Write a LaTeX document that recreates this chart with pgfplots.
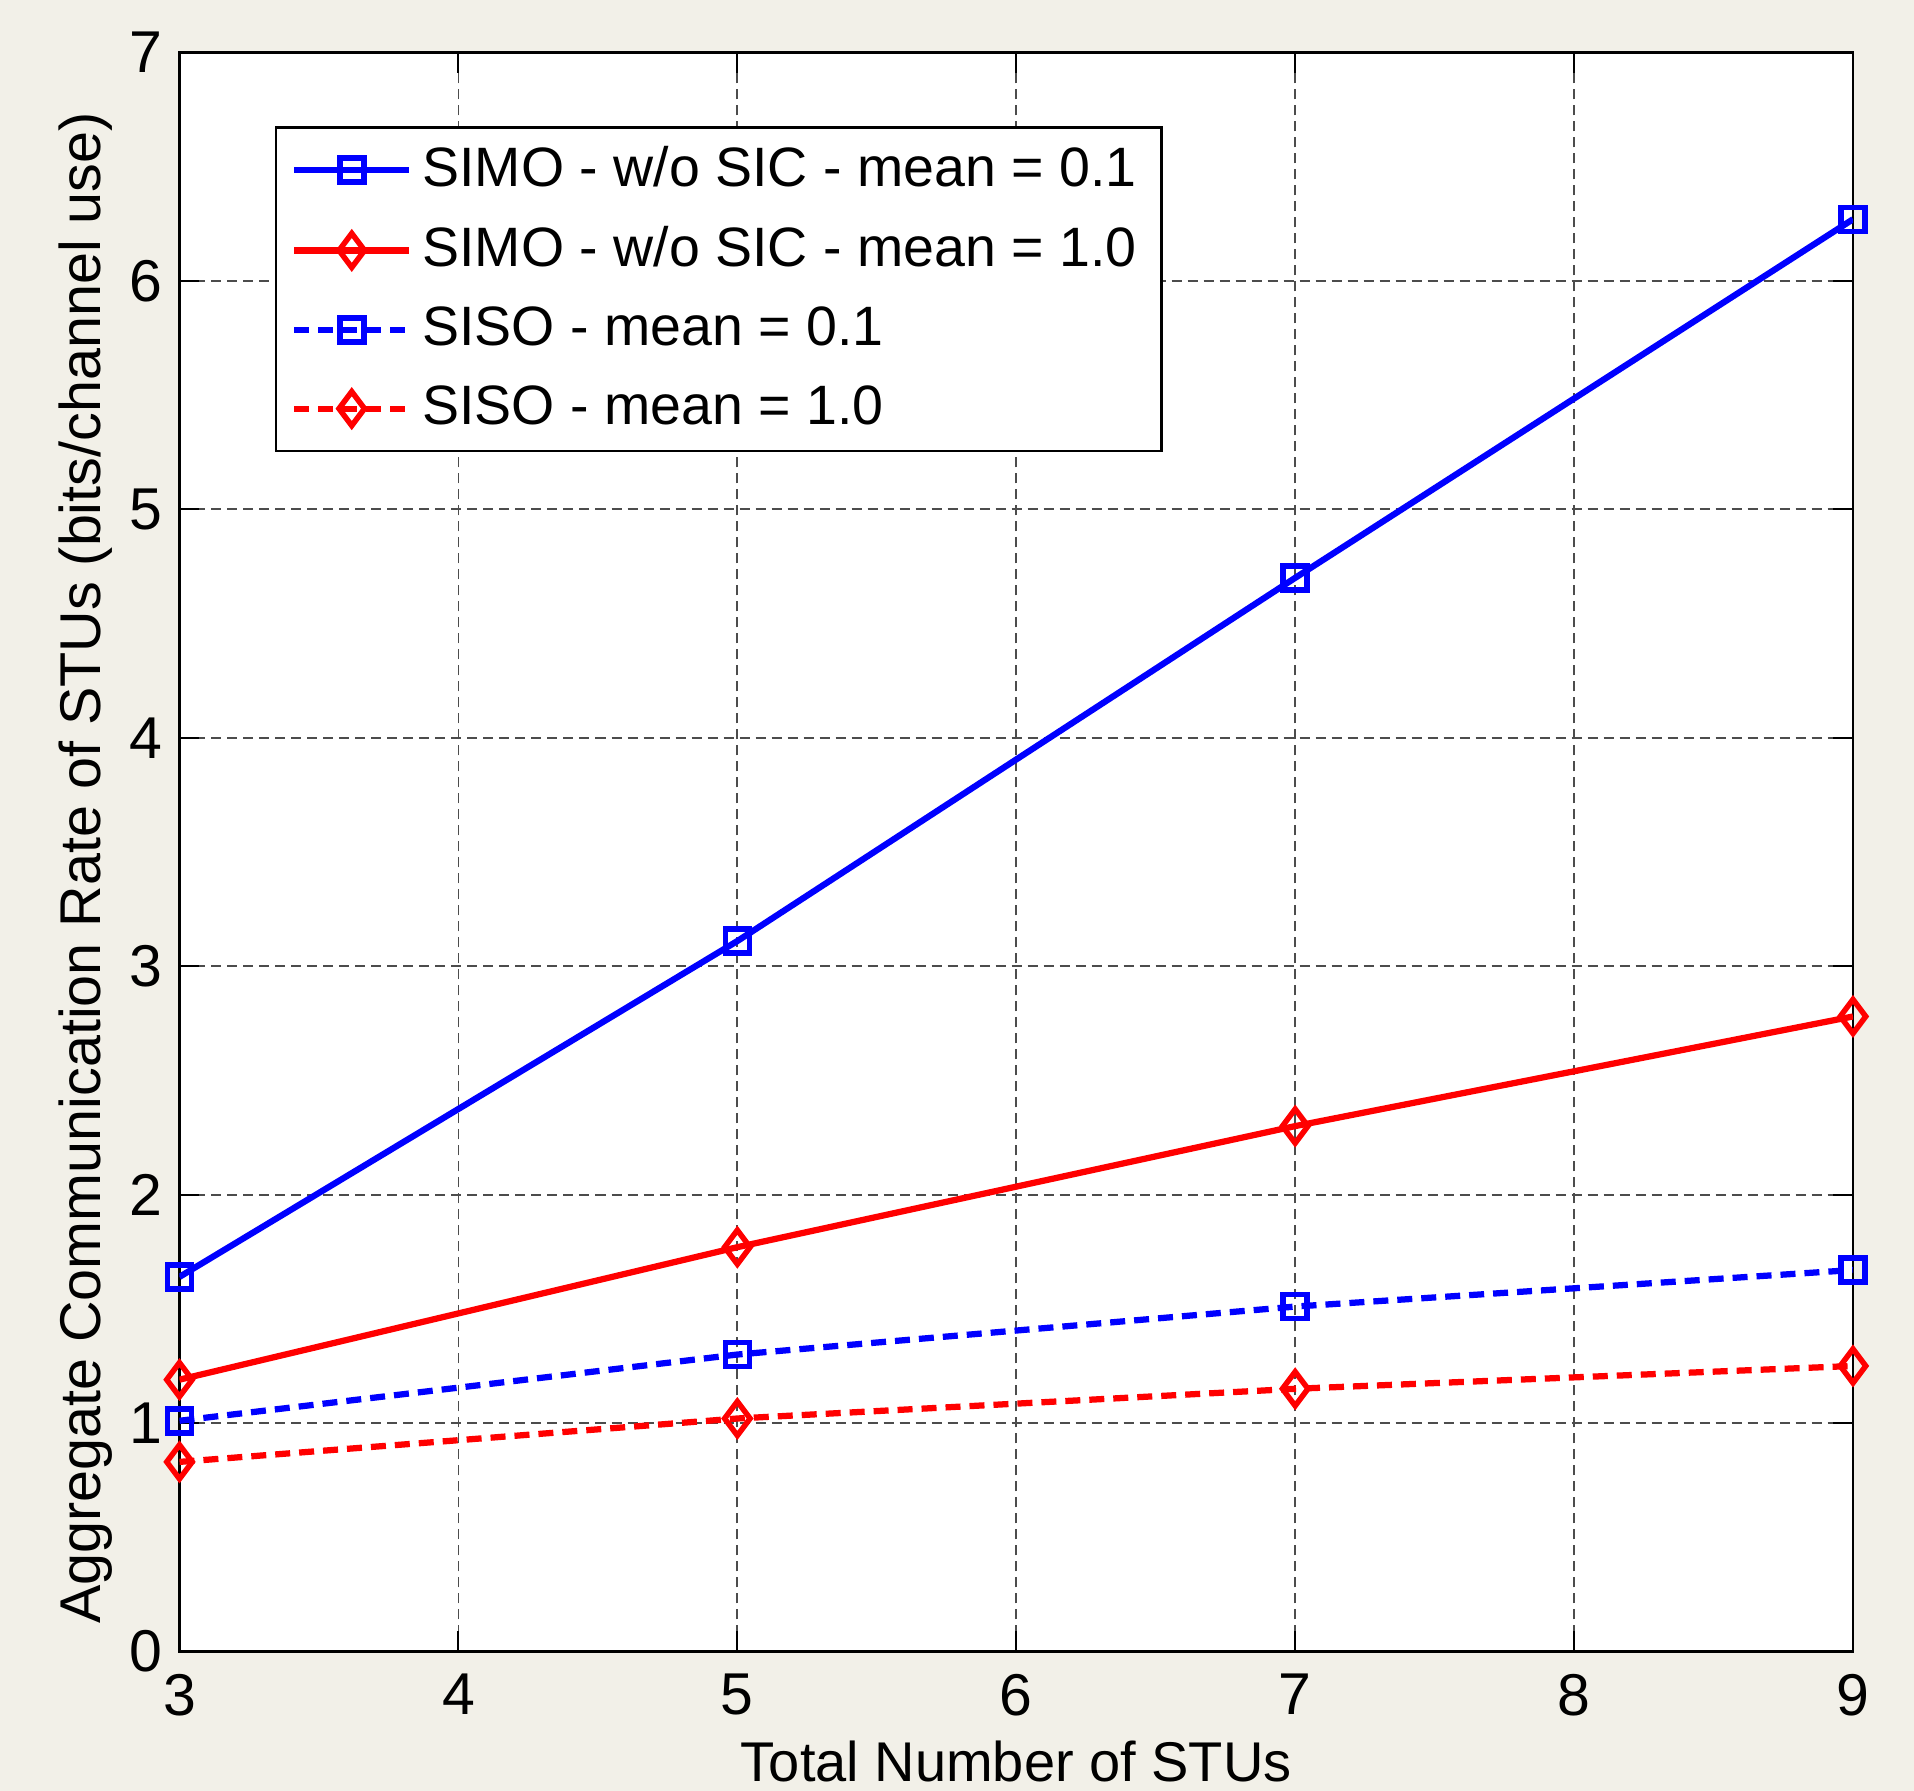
\documentclass[border=0pt]{standalone}
\usepackage{pgfplots}
\pgfplotsset{compat=1.18}
\usepackage{fontspec}
\setmainfont{Liberation Sans}
\definecolor{figbg}{RGB}{242,240,232}
\definecolor{mblue}{RGB}{0,0,255}
\definecolor{mred}{RGB}{255,0,0}

\begin{document}
\begin{tikzpicture}
% figure background (MATLAB grey)
\fill[figbg] (-35.9pt,-27.9pt) rectangle (346.9pt,330.3pt);
\begin{axis}[
  name=ax,
  at={(0,0)}, anchor=south west,
  scale only axis,
  width=334.7pt, height=319.8pt,
  xmin=3, xmax=9, ymin=0, ymax=7,
  xtick={3,4,...,9}, ytick={0,1,...,7},
  axis background/.style={fill=white},
  axis line style={line width=0.5pt},
  tick align=inside,
  major tick length=4pt,
  tick style={black, line width=0.4pt},
  grid=major,
  grid style={black!70, line width=0.35pt, dash pattern=on 2pt off 1.2pt},
  /pgf/number format/assume math mode=true,
  ticklabel style={font=\fontsize{11.8}{13}\selectfont},
  xticklabel style={yshift=-1pt},
  xlabel={Total Number of STUs},
  ylabel={Aggregate Communication Rate of STUs (bits/channel use)},
  xlabel style={font=\fontsize{11.2}{13}\selectfont, at={(axis description cs:0.5,-0.069)}, anchor=center},
  ylabel style={font=\fontsize{11.5}{13}\selectfont, at={(axis description cs:-0.056,0.49)}, anchor=center},
  legend style={at={(axis description cs:0.057,0.954)}, anchor=north west,
    draw=black, line width=0.5pt, fill=white,
    font=\fontsize{11.1}{13}\selectfont,
    row sep=2.5pt, inner xsep=3pt, inner ysep=1.8pt},
  legend cell align=left,
  legend image code/.code={%
    \draw[mark repeat=2,mark phase=2] plot coordinates {(0pt,0pt) (11.5pt,0pt) (23pt,0pt)};},
  every axis plot/.append style={line width=1.25pt},
]

\addplot[mblue, mark=square, mark size=2.4pt, mark options={solid, line width=1.1pt}]
  coordinates {(3,1.64) (5,3.11) (7,4.70) (9,6.27)};
\addlegendentry{SIMO - w/o SIC - mean = 0.1}

\addplot[mred, mark=diamond, mark size=3.4pt, mark options={solid, line width=1.1pt}]
  coordinates {(3,1.19) (5,1.77) (7,2.30) (9,2.78)};
\addlegendentry{SIMO - w/o SIC - mean = 1.0}

\addplot[mblue, dash pattern=on 3pt off 1.8pt, mark=square, mark size=2.4pt, mark options={solid, line width=1.1pt}]
  coordinates {(3,1.01) (5,1.30) (7,1.51) (9,1.67)};
\addlegendentry{SISO - mean = 0.1}

\addplot[mred, dash pattern=on 3pt off 1.8pt, mark=diamond, mark size=3.4pt, mark options={solid, line width=1.1pt}]
  coordinates {(3,0.83) (5,1.02) (7,1.15) (9,1.25)};
\addlegendentry{SISO - mean = 1.0}

\end{axis}
\pgfresetboundingbox
\path[use as bounding box] (-35.9pt,-27.9pt) rectangle (346.9pt,330.3pt);
\end{tikzpicture}
\end{document}
